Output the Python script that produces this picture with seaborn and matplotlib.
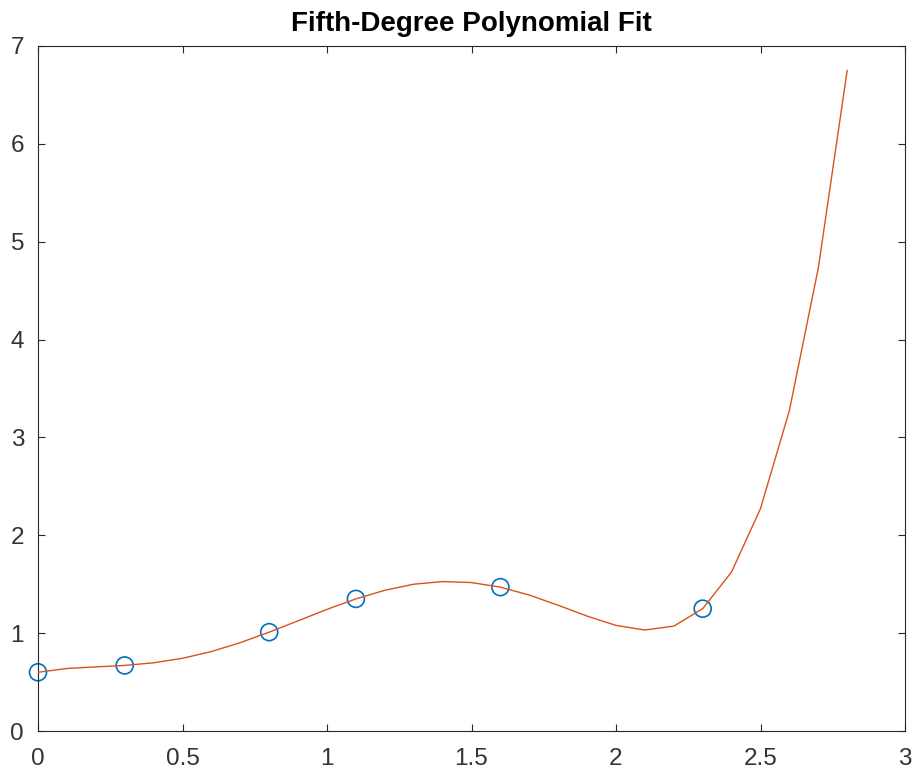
import numpy as np
import pandas as pd
import matplotlib
matplotlib.use("Agg")
import matplotlib.pyplot as plt
import seaborn as sns

# measured points
x_data = [0, 0.3, 0.8, 1.1, 1.6, 2.3]
y_data = [0.6, 0.67, 1.01, 1.35, 1.47, 1.25]

# fitted curve, sampled every 0.1 from 0 to 2.8
x_fit = [0.0, 0.1, 0.2, 0.3, 0.4, 0.5, 0.6, 0.7, 0.8, 0.9,
         1.0, 1.1, 1.2, 1.3, 1.4, 1.5, 1.6, 1.7, 1.8, 1.9,
         2.0, 2.1, 2.2, 2.3, 2.4, 2.5, 2.6, 2.7, 2.8]
y_fit = [0.600, 0.639, 0.655, 0.670, 0.697, 0.743, 0.812, 0.903, 1.010, 1.126,
         1.243, 1.350, 1.438, 1.500, 1.527, 1.517, 1.470, 1.389, 1.285, 1.174,
         1.079, 1.032, 1.072, 1.250, 1.626, 2.273, 3.275, 4.731, 6.752]

x_ticks = [0, 0.5, 1, 1.5, 2, 2.5, 3]
x_ticklabels = ["0", "0.5", "1", "1.5", "2", "2.5", "3"]
y_ticks = [0, 1, 2, 3, 4, 5, 6, 7]

sns.set_style("ticks")
plt.rcParams['font.family'] = ['Liberation Sans', 'DejaVu Sans']

axis_color = "#262626"
fig = plt.figure(figsize=(9.14, 7.74), dpi=100)
ax = fig.add_axes([38 / 914, 1 - 731 / 774, (905 - 38) / 914, (731 - 46) / 774])

pts = pd.DataFrame({"x": x_data, "y": y_data})
fit = pd.DataFrame({"x": x_fit, "y": y_fit})

sns.scatterplot(data=pts, x="x", y="y", marker="o", s=150, facecolors="none",
                edgecolors="#0072BD", linewidth=1.2, ax=ax, zorder=2, clip_on=False)
sns.lineplot(data=fit, x="x", y="y", color="#D95319", linewidth=1.0, ax=ax,
             zorder=3, estimator=None, sort=False)

ax.set_xlim(0, 3)
ax.set_ylim(0, 7)
ax.set_xticks(x_ticks)
ax.set_xticklabels(x_ticklabels)
ax.set_yticks(y_ticks)
ax.set_xlabel("")
ax.set_ylabel("")
ax.set_title("Fifth-Degree Polynomial Fit", fontsize=20, fontweight="bold",
             color="black", pad=11)

for s in ['left', 'right', 'top', 'bottom']:
    ax.spines[s].set_visible(True)
    ax.spines[s].set_color(axis_color)
    ax.spines[s].set_linewidth(0.8)
ax.tick_params(direction="in", top=True, right=True, length=5, width=0.8,
               colors=axis_color, labelsize=17.5, labelcolor="#333333")
ax.tick_params(axis="x", pad=12)
ax.tick_params(axis="y", pad=10)

plt.savefig("out.png", dpi=100)
